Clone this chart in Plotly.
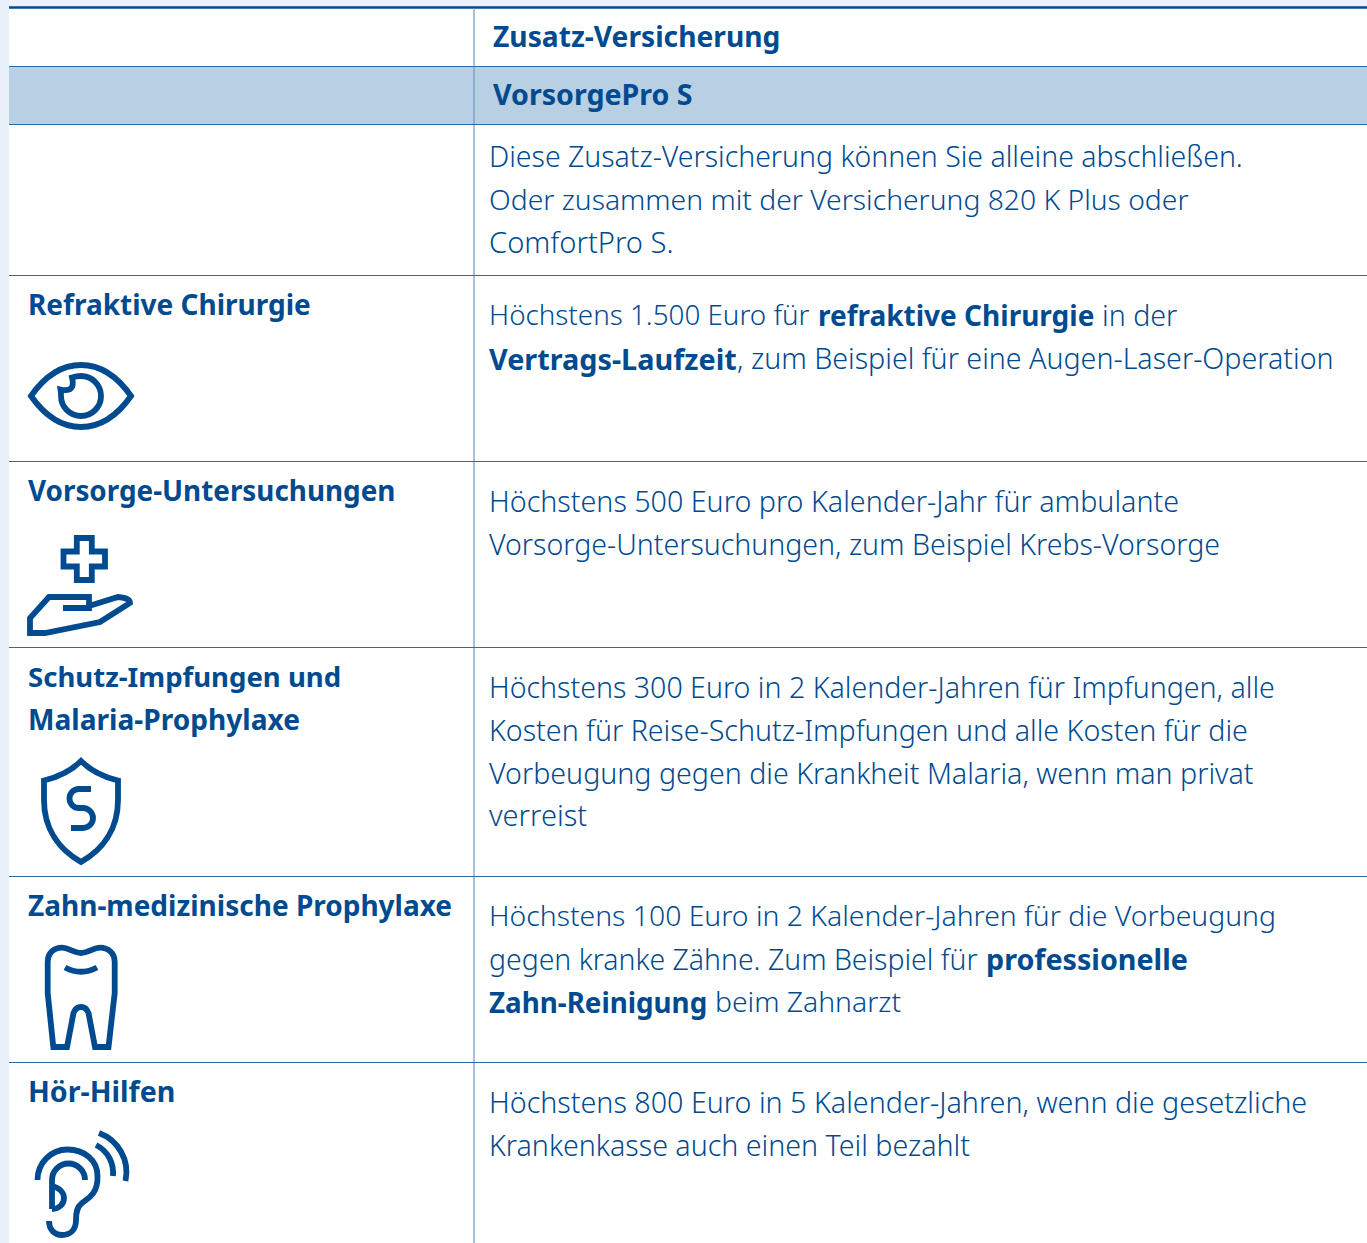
import plotly.graph_objects as go

# ---- content ----
HEADER_TEXT = ["Zusatz-Versicherung", "VorsorgePro S"]
ROW_LABELS = ["Refraktive Chirurgie", "Vorsorge-Untersuchungen", "Schutz-Impfungen und",
              "Malaria-Prophylaxe", "Zahn-medizinische Prophylaxe", "Hör-Hilfen"]
BODY_LIGHT = [
    "Diese Zusatz-Versicherung können Sie alleine abschließen.",
    "Oder zusammen mit der Versicherung 820 K Plus oder",
    "ComfortPro S.",
    "Höchstens 1.500 Euro für", "in der",
    ", zum Beispiel für eine Augen-Laser-Operation",
    "Höchstens 500 Euro pro Kalender-Jahr für ambulante",
    "Vorsorge-Untersuchungen, zum Beispiel Krebs-Vorsorge",
    "Höchstens 300 Euro in 2 Kalender-Jahren für Impfungen, alle",
    "Kosten für Reise-Schutz-Impfungen und alle Kosten für die",
    "Vorbeugung gegen die Krankheit Malaria, wenn man privat",
    "verreist",
    "Höchstens 100 Euro in 2 Kalender-Jahren für die Vorbeugung",
    "gegen kranke Zähne. Zum Beispiel für",
    "beim Zahnarzt",
    "Höchstens 800 Euro in 5 Kalender-Jahren, wenn die gesetzliche",
    "Krankenkasse auch einen Teil bezahlt",
]
BODY_BOLD = ["refraktive Chirurgie", "Vertrags-Laufzeit", "professionelle", "Zahn-Reinigung"]

# ---- layout ----
W, H = 1367, 1243
NAVY = "#004a8f"
RULE = "#2f6aa6"
HEADER_POS = [(493, 36), (493, 93)]
LABEL_POS = [(28, 304), (28, 490), (28, 676), (28, 719), (28, 905), (28, 1090)]
LIGHT_POS = [(489, 156), (489, 199), (489, 242), (489, 314), (1102, 314), (737, 357),
             (489, 500), (489, 544), (489, 686), (489, 729), (489, 772), (489, 814),
             (489, 915), (489, 959), (715, 1001), (489, 1101), (489, 1144)]
BOLD_POS = [(818, 315), (489, 358), (986, 958), (489, 1002)]
HEADER_SIZES = [28.2, 28.6]
LABEL_SIZES = [28, 27.85, 27.55, 28.1, 28, 28.6]
LIGHT_SIZES = [28.45, 28.28, 29.1, 27.8, 28.6, 28.6, 28.65, 28.5, 28.55, 28.6, 28.6, 29,
               28.35, 28.4, 28.3, 28.67, 28.6]
BOLD_SIZES = [28, 28.8, 28.7, 27.75]
H_RULES = [66.5, 124.5, 275.5, 461.5, 647.5, 876.5, 1062.5]
ICON_PATHS = [
    # eye
    "M31 396 C45 376 62 365 81 365 C100 365 117 376 131 396 C117 416 100 427 81 427 C62 427 45 416 31 396 Z",
    "M72 377.5 C75 376.5 78.2 376 81 376 C92 376 101 385 101 396 C101 407 92 416 81 416 C70 416 61 407 61 396 C61 394 60.8 391.5 60.5 389.5 Q76 393 72 377.5 Z",
    # cross in hand
    "M76.8 538 L91.8 538 L91.8 551.5 L105 551.5 L105 566.5 L91.8 566.5 L91.8 580 L76.8 580 L76.8 566.5 L63.5 566.5 L63.5 551.5 L76.8 551.5 Z",
    "M63 608 L89 608 L89 597 L49 597 L30 618 L30 633 L45 633 L100 622 L130 603 Q130 598 118 597 L89 606",
    # shield
    "M81 761 C72 770 59 777 44 780.5 L44 800 C44 830 60 850 81 862 C102 850 118 830 118 800 L118 780.5 C103 777 90 770 81 761 Z",
    "M91 789 L79 789 C73.8 789 69.5 793 69.5 798.5 C69.5 804 73.8 808 79 808 L83 808 C88.5 808 93 812.5 93 818 C93 823.5 88.5 828 83 828 L71 828",
    # tooth
    "M53.3 1047 L47.7 993 L47.7 962 C47.7 953 54 947.7 62 947.7 C68 947.7 74 953 81 953 C88 953 94 947.7 100 947.7 C108 947.7 114.7 953 114.7 962 L114.7 993 L108.5 1047 L95 1047 L88.5 1013 C87 1009 84 1007 81 1007 C78 1007 75 1009 73.5 1013 L67 1047 Z",
    "M65 967.5 Q81 976 97 967.5",
    # ear
    "M37.5 1180 C37.5 1163 51 1149.5 67.5 1149.5 C84 1149.5 97.5 1160 97.5 1176 C98 1195 87 1199 82 1203 C77 1207 76 1212 76 1220 C76 1230 70 1235 62 1235 C54 1235 49 1229 49 1221",
    "M85 1180 C85 1171 77.6 1163.5 68.5 1163.5 C59.4 1163.5 52 1171 52 1180 L52 1209",
    "M52 1186 C60 1188 64 1193 64 1198 C64 1205 58 1209 52 1209",
    "M96 1145 C108 1151 114 1163 113 1176",
    "M99 1133 C118 1140 130 1160 125.5 1181",
]

FONT = "Noto Sans"


def note(text, pos, size, weight):
    return dict(text=text, x=pos[0], y=pos[1], xref="x", yref="y", xanchor="left", yanchor="middle",
                showarrow=False, borderpad=0, borderwidth=0,
                font=dict(family=FONT, size=size, color=NAVY, weight=weight))


annotations = []
annotations += [note(t, p, s, 700) for t, p, s in zip(HEADER_TEXT, HEADER_POS, HEADER_SIZES)]
annotations += [note(t, p, s, 700) for t, p, s in zip(ROW_LABELS, LABEL_POS, LABEL_SIZES)]
annotations += [note(t, p, s, 300) for t, p, s in zip(BODY_LIGHT, LIGHT_POS, LIGHT_SIZES)]
annotations += [note(t, p, s, 700) for t, p, s in zip(BODY_BOLD, BOLD_POS, BOLD_SIZES)]

shapes = [
    dict(type="rect", x0=9, x1=W, y0=8, y1=H, fillcolor="white", line_width=0, layer="below"),
    dict(type="rect", x0=9, x1=W, y0=66, y1=124, fillcolor="#b9cfe3", line_width=0, layer="below"),
    dict(type="line", x0=9, x1=W, y0=7.5, y1=7.5, line=dict(color=NAVY, width=2.5)),
    dict(type="line", x0=474, x1=474, y0=8, y1=H, line=dict(color="#6f97c0", width=1.2)),
]
shapes += [dict(type="line", x0=9, x1=W, y0=y, y1=y, line=dict(color=RULE, width=1)) for y in H_RULES]
shapes += [dict(type="path", path=p, line=dict(color=NAVY, width=5.8), fillcolor="rgba(0,0,0,0)") for p in ICON_PATHS]

fig = go.Figure()
fig.update_layout(
    width=W, height=H, margin=dict(l=0, r=0, t=0, b=0),
    paper_bgcolor="#eaf1fb", plot_bgcolor="rgba(0,0,0,0)",
    xaxis=dict(range=[0, W], visible=False, fixedrange=True),
    yaxis=dict(range=[H, 0], visible=False, fixedrange=True),
    annotations=annotations, shapes=shapes, showlegend=False,
)
fig.write_html("out.html", config=dict(displayModeBar=False),
               post_script="document.body.style.margin='0';document.documentElement.style.overflow='hidden';")
